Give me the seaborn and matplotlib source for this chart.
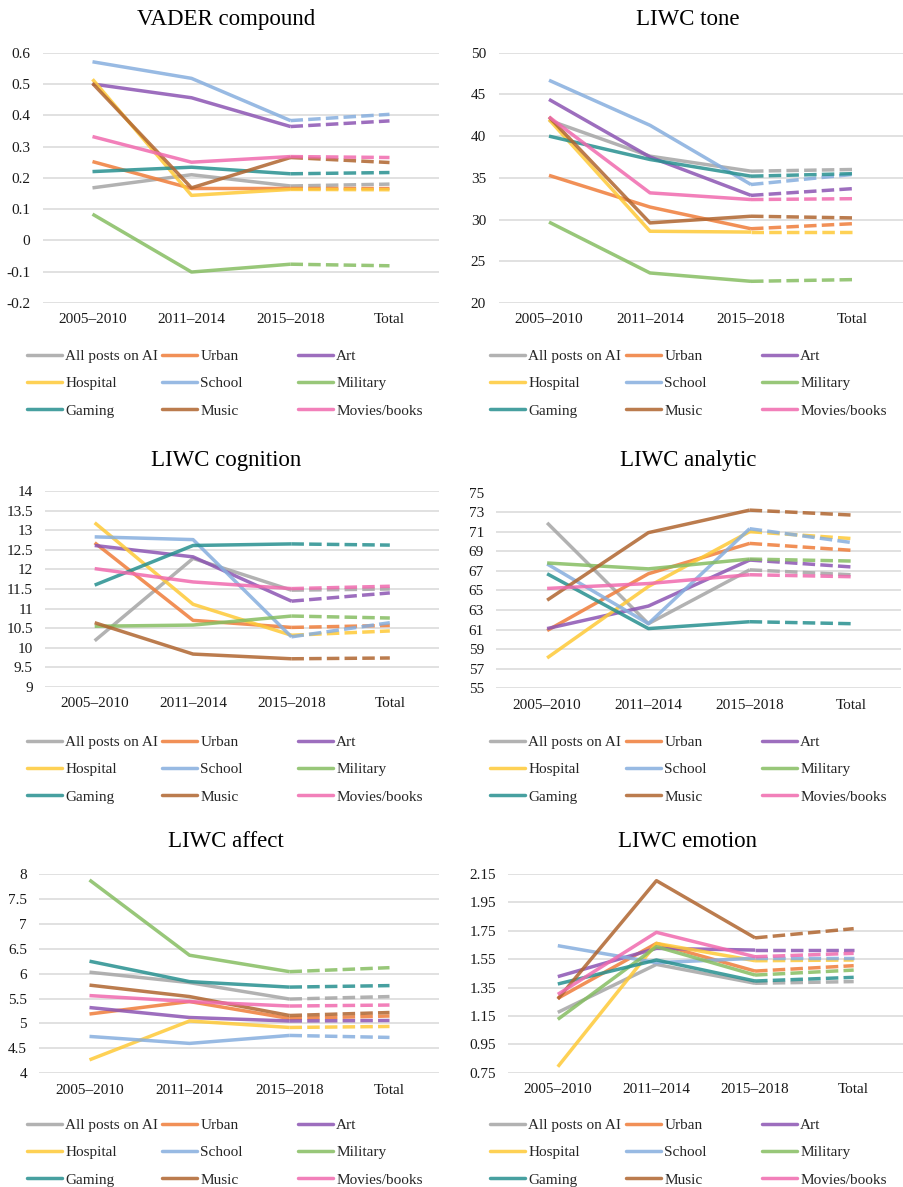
import matplotlib
matplotlib.use("Agg")
import matplotlib.pyplot as plt
from matplotlib.lines import Line2D
import pandas as pd
import seaborn as sns

W, H = 904, 1187

periods = ["2005–2010", "2011–2014", "2015–2018", "Total"]
groups = ["All posts on AI", "Urban", "Art", "Hospital", "School",
          "Military", "Gaming", "Music", "Movies/books"]
colors = ["#a5a5a5", "#ef7d3a", "#8c55b3", "#fec937", "#86aede",
          "#86bd62", "#27908f", "#b0652f", "#f06aae"]

# one row per group (same order as `groups`), one column per period
vader_compound = [
    [0.168, 0.210, 0.174, 0.180],
    [0.252, 0.166, 0.166, 0.166],
    [0.500, 0.456, 0.364, 0.382],
    [0.515, 0.144, 0.163, 0.162],
    [0.571, 0.518, 0.383, 0.403],
    [0.084, -0.101, -0.076, -0.081],
    [0.220, 0.234, 0.213, 0.217],
    [0.502, 0.168, 0.265, 0.249],
    [0.332, 0.250, 0.268, 0.265],
]
liwc_tone = [
    [41.9, 37.6, 35.8, 36.0],
    [35.3, 31.5, 28.9, 29.5],
    [44.4, 37.5, 32.9, 33.7],
    [42.0, 28.6, 28.5, 28.5],
    [46.7, 41.3, 34.2, 35.4],
    [29.7, 23.6, 22.6, 22.8],
    [40.0, 37.2, 35.2, 35.5],
    [42.3, 29.6, 30.4, 30.2],
    [42.3, 33.2, 32.4, 32.5],
]
liwc_cognition = [
    [10.18, 12.28, 11.47, 11.50],
    [12.68, 10.70, 10.52, 10.57],
    [12.61, 12.32, 11.19, 11.40],
    [13.19, 11.11, 10.32, 10.43],
    [12.83, 12.76, 10.28, 10.64],
    [10.55, 10.58, 10.81, 10.76],
    [11.60, 12.61, 12.65, 12.62],
    [10.64, 9.84, 9.72, 9.74],
    [12.02, 11.68, 11.51, 11.57],
]
liwc_analytic = [
    [71.9, 61.6, 67.1, 66.6],
    [60.9, 66.7, 69.8, 69.1],
    [61.1, 63.4, 68.1, 67.4],
    [58.1, 65.4, 71.0, 70.3],
    [67.7, 61.6, 71.3, 69.9],
    [67.8, 67.2, 68.2, 68.0],
    [66.7, 61.1, 61.8, 61.6],
    [64.0, 70.9, 73.2, 72.7],
    [65.2, 65.7, 66.6, 66.4],
]
liwc_affect = [
    [6.03, 5.82, 5.49, 5.54],
    [5.19, 5.44, 5.10, 5.15],
    [5.32, 5.12, 5.05, 5.06],
    [4.27, 5.05, 4.92, 4.94],
    [4.74, 4.60, 4.76, 4.72],
    [7.88, 6.37, 6.04, 6.12],
    [6.25, 5.84, 5.73, 5.76],
    [5.77, 5.54, 5.16, 5.22],
    [5.56, 5.44, 5.35, 5.37],
]
liwc_emotion = [
    [1.175, 1.513, 1.380, 1.392],
    [1.274, 1.661, 1.466, 1.504],
    [1.427, 1.626, 1.614, 1.614],
    [0.792, 1.661, 1.539, 1.544],
    [1.645, 1.525, 1.556, 1.556],
    [1.126, 1.638, 1.438, 1.473],
    [1.375, 1.544, 1.396, 1.422],
    [1.269, 2.103, 1.700, 1.765],
    [1.302, 1.739, 1.567, 1.591],
]

yticks_vader = [-0.2, -0.1, 0, 0.1, 0.2, 0.3, 0.4, 0.5, 0.6]
yticks_tone = [20, 25, 30, 35, 40, 45, 50]
yticks_cognition = [9, 9.5, 10, 10.5, 11, 11.5, 12, 12.5, 13, 13.5, 14]
yticks_analytic = [55, 57, 59, 61, 63, 65, 67, 69, 71, 73, 75]
yticks_affect = [4, 4.5, 5, 5.5, 6, 6.5, 7, 7.5, 8]
yticks_emotion = [0.75, 0.95, 1.15, 1.35, 1.55, 1.75, 1.95, 2.15]

sns.set_theme(style="white")
plt.rcParams["font.family"] = ["Liberation Serif", "DejaVu Serif"]
plt.rcParams["axes.unicode_minus"] = False

fig = plt.figure(figsize=(W / 100, H / 100), dpi=100)
fig.patch.set_facecolor("white")

LW = 2.5
ALPHA = 0.85


def long_form(values):
    """Period segments are solid; the step to the overall total is dashed."""
    rows = []
    for g, vals in zip(groups, values):
        for i, v in enumerate(vals):
            if i <= 2:
                rows.append((g, i, v, "period"))
            if i >= 2:
                rows.append((g, i, v, "total"))
    return pd.DataFrame(rows, columns=["group", "x", "value", "segment"])


def axes_px(left, right, top, bottom):
    return fig.add_axes([left / W, 1 - bottom / H, (right - left) / W, (bottom - top) / H])


# (title, values, yticks, axes box in px, title centre x, title baseline y,
#  legend column x positions, legend middle-row y)
panels = [
    ("VADER compound", vader_compound, yticks_vader, (43, 439, 52.7, 303), 226, 25,
     (27, 162, 298), 383.5),
    ("LIWC tone", liwc_tone, yticks_tone, (498.5, 902.5, 52.7, 303), 688, 25,
     (490, 626, 762), 383.5),
    ("LIWC cognition", liwc_cognition, yticks_cognition, (45.5, 439, 491, 687), 226, 466,
     (27, 162, 298), 769.5),
    ("LIWC analytic", liwc_analytic, yticks_analytic, (496.5, 901.5, 492.5, 688.3), 688, 466,
     (490, 626, 762), 769.5),
    ("LIWC affect", liwc_affect, yticks_affect, (39.5, 439.5, 874, 1073.3), 226, 847,
     (27, 162, 298), 1152.5),
    ("LIWC emotion", liwc_emotion, yticks_emotion, (508.5, 903, 874, 1072.7), 688, 847,
     (490, 626, 762), 1152.5),
]

for title, values, yt, box, tx, ty, leg_x, leg_y in panels:
    ax = axes_px(*box)
    df = long_form(values)
    sns.lineplot(
        data=df, x="x", y="value", hue="group", hue_order=groups, palette=colors,
        style="segment", style_order=["period", "total"],
        dashes={"period": "", "total": (3.6, 1.5)},
        estimator=None, sort=True, legend=False, ax=ax,
        lw=LW, alpha=ALPHA, solid_joinstyle="round", solid_capstyle="butt",
    )
    ax.set_xlim(-0.5, 3.5)
    ax.set_xticks(range(len(periods)))
    ax.set_xticklabels(periods)
    ax.set_ylim(yt[0], yt[-1])
    ax.set_yticks(yt)
    ax.set_yticklabels([f"{v:g}" for v in yt])
    ax.set_xlabel("")
    ax.set_ylabel("")
    ax.set_facecolor("none")
    ax.grid(axis="y", color="#d9d9d9", lw=1.1)
    ax.grid(axis="x", visible=False)
    ax.set_axisbelow(True)
    sns.despine(ax=ax, left=True, bottom=True)
    ax.tick_params(axis="both", length=0, labelsize=11, colors="#1a1a1a")
    ax.tick_params(axis="y", pad=9)
    ax.tick_params(axis="x", pad=7.5)

    fig.text(tx / W, 1 - ty / H, title, ha="center", va="baseline",
             fontsize=16.5, color="black")

    for c, x0 in enumerate(leg_x):
        idx = [c, c + 3, c + 6]
        handles = [Line2D([], [], color=colors[i], lw=LW, alpha=ALPHA) for i in idx]
        fig.legend(handles, [groups[i] for i in idx], loc="center left",
                   bbox_to_anchor=(x0 / W, 1 - leg_y / H), frameon=False,
                   borderpad=0, borderaxespad=0, handlelength=2.3,
                   handletextpad=0.2, labelspacing=0.9, fontsize=11)

fig.savefig("out.png", dpi=100, facecolor="white")
